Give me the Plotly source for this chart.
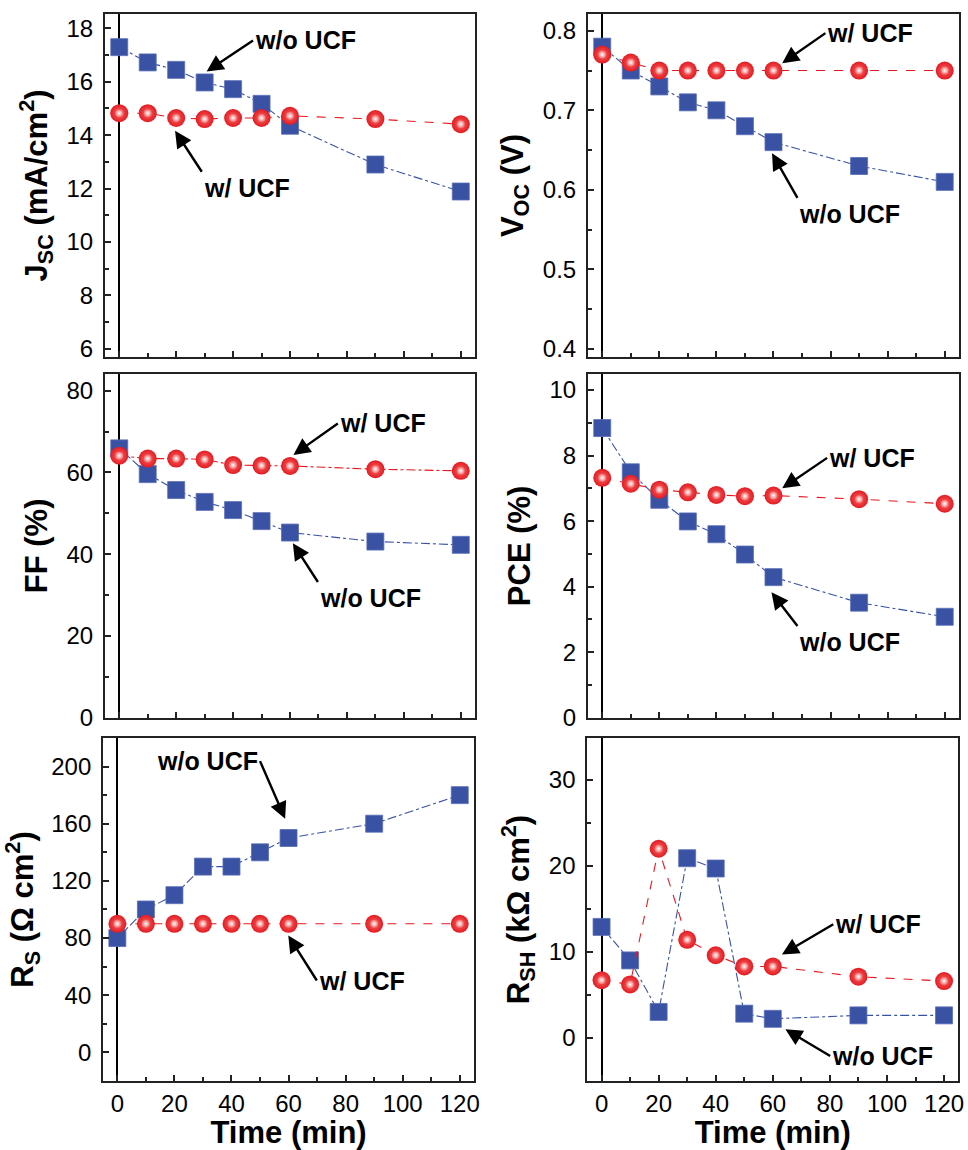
import plotly.graph_objects as go

# ---------------- data ----------------
time_min = [0, 10, 20, 30, 40, 50, 60, 90, 120]

jsc_wo = [17.29, 16.72, 16.44, 15.97, 15.72, 15.17, 14.35, 12.90, 11.89]
jsc_w = [14.82, 14.82, 14.64, 14.60, 14.64, 14.64, 14.72, 14.60, 14.41]

voc_wo = [0.78, 0.75, 0.73, 0.71, 0.70, 0.68, 0.66, 0.63, 0.61]
voc_w = [0.77, 0.76, 0.75, 0.75, 0.75, 0.75, 0.75, 0.75, 0.75]

ff_wo = [65.9, 59.6, 55.7, 52.8, 50.8, 48.1, 45.3, 43.1, 42.3]
ff_w = [64.1, 63.4, 63.4, 63.2, 61.8, 61.7, 61.6, 60.8, 60.4]

pce_wo = [8.84, 7.49, 6.65, 5.99, 5.60, 4.98, 4.29, 3.51, 3.08]
pce_w = [7.32, 7.14, 6.96, 6.88, 6.80, 6.76, 6.78, 6.67, 6.53]

rs_wo = [80, 100, 110, 130, 130, 140, 150, 160, 180]
rs_w = [90, 90, 90, 90, 90, 90, 90, 90, 90]

rsh_wo = [12.9, 9.0, 3.0, 20.9, 19.7, 2.8, 2.2, 2.6, 2.6]
rsh_w = [6.7, 6.2, 22.0, 11.4, 9.6, 8.3, 8.3, 7.1, 6.6]

label_wo = "w/o UCF"
label_w = "w/ UCF"

# ---------------- styling ----------------
FONT = "Liberation Sans, Arial, sans-serif"
BLUE = "#3a52a4"
RED = "#e5191f"
RED_MID = "#f26a6a"
AXCOL = "#222222"
TICKFS = 24
TITLEFS = 31
ANNFS = 25

# annotation tuples: (text, tail_x, tail_y, xanchor, yanchor, head_x, head_y)
panels = [
    dict(wo=jsc_wo, w=jsc_w, yr=[5.7, 18.53], dt=2, mdt=1,
         title="<b>J<sub>SC</sub> (mA/cm<sup>2</sup>)</b>", rdash="dash",
         xd=[0.1085, 0.4907], yd=[0.6896, 0.9878],
         ann=[(label_wo, 47.0, 17.54, "left", "middle", 30.7, 16.38),
              (label_w, 29.0, 12.63, "left", "top", 19.6, 14.16)]),
    dict(wo=voc_wo, w=voc_w, yr=[0.39, 0.821], dt=0.1, mdt=0.05,
         title="<b>V<sub>OC</sub> (V)</b>", rdash="dash",
         xd=[0.6074, 0.9907], yd=[0.6896, 0.9878],
         ann=[(label_w, 78.2, 0.797, "left", "middle", 63.05, 0.759),
              (label_wo, 68.4, 0.590, "left", "top", 59.5, 0.646)]),
    dict(wo=ff_wo, w=ff_w, yr=[0, 84.1], dt=20, mdt=10,
         title="<b>FF (%)</b>", rdash="dashdot",
         xd=[0.1085, 0.4907], yd=[0.3759, 0.6748],
         ann=[(label_w, 76.8, 72.0, "left", "middle", 61.2, 64.3),
              (label_wo, 69.8, 33.2, "left", "top", 61.0, 42.7)]),
    dict(wo=pce_wo, w=pce_w, yr=[0, 10.49], dt=2, mdt=1,
         title="<b>PCE (%)</b>", rdash="dash",
         xd=[0.6074, 0.9907], yd=[0.3759, 0.6748],
         ann=[(label_w, 78.8, 7.93, "left", "middle", 63.05, 7.0),
              (label_wo, 68.4, 2.80, "left", "top", 59.3, 3.83)]),
    dict(wo=rs_wo, w=rs_w, yr=[-20, 220], dt=40, mdt=20,
         title="<b>R<sub>S</sub> (Ω cm<sup>2</sup>)</b>", rdash="dash",
         xd=[0.1065, 0.4897], yd=[0.0600, 0.3583],
         ann=[(label_wo, 50.0, 203.8, "right", "middle", 58.8, 163.4),
              (label_w, 69.9, 50.3, "left", "middle", 59.9, 81.8)]),
    dict(wo=rsh_wo, w=rsh_w, yr=[-5.04, 34.9], dt=10, mdt=5,
         title="<b>R<sub>SH</sub> (kΩ cm<sup>2</sup>)</b>", rdash="dash",
         xd=[0.6067, 0.9900], yd=[0.0600, 0.3583],
         ann=[(label_w, 81.2, 13.2, "left", "middle", 63.2, 9.7),
              (label_wo, 80.1, -2.13, "left", "middle", 64.4, 0.98)]),
]

fig = go.Figure()
layout = dict(
    width=968, height=1150,
    margin=dict(l=0, r=0, t=0, b=0, autoexpand=False),
    paper_bgcolor="white", plot_bgcolor="white",
    showlegend=False,
    font=dict(family=FONT, color="black"),
)
annotations = []

for i, p in enumerate(panels):
    n = i + 1
    xs = "x" if n == 1 else f"x{n}"
    ys = "y" if n == 1 else f"y{n}"
    xk = "xaxis" if n == 1 else f"xaxis{n}"
    yk = "yaxis" if n == 1 else f"yaxis{n}"
    bottom = i >= 4

    # w/o UCF: blue squares, dash-dot line
    fig.add_trace(go.Scatter(
        x=time_min, y=p["wo"], xaxis=xs, yaxis=ys, mode="lines+markers",
        name=label_wo, cliponaxis=False,
        line=dict(color=BLUE, width=1.1, dash="dashdot"),
        marker=dict(symbol="square", size=17, color=BLUE,
                    line=dict(color="#5a6fb8", width=0.8)),
    ))
    # w/ UCF: red spheres, dashed line
    fig.add_trace(go.Scatter(
        x=time_min, y=p["w"], xaxis=xs, yaxis=ys, mode="lines+markers",
        name=label_w, cliponaxis=False,
        line=dict(color=RED, width=1.1, dash=p["rdash"]),
        marker=dict(symbol="circle", size=18, color=RED,
                    gradient=dict(type="radial", color=RED_MID),
                    line=dict(width=0)),
    ))
    # sphere highlight
    fig.add_trace(go.Scatter(
        x=time_min, y=p["w"], xaxis=xs, yaxis=ys, mode="markers",
        hoverinfo="skip", cliponaxis=False, showlegend=False,
        marker=dict(symbol="circle", size=8, color=RED_MID,
                    gradient=dict(type="radial", color="#ffffff"),
                    line=dict(width=0)),
    ))

    xa = dict(
        domain=p["xd"], anchor=ys, range=[-5, 125], automargin=False,
        tickmode="array", tickvals=[0, 20, 40, 60, 80, 100, 120],
        ticks="inside", ticklen=6, tickwidth=1.5, tickcolor=AXCOL,
        minor=dict(tickmode="array", tickvals=[10, 30, 50, 70, 90, 110],
                   ticks="inside", ticklen=4, tickwidth=1.5, tickcolor=AXCOL),
        showticklabels=bottom, ticklabelstandoff=0,
        tickfont=dict(family=FONT, size=TICKFS, color="black"),
        showline=True, linecolor=AXCOL, linewidth=2, mirror=True,
        showgrid=False,
        zeroline=True, zerolinecolor="black", zerolinewidth=1.6,
    )
    if bottom:
        xa["title"] = dict(text="<b>Time (min)</b>",
                           font=dict(family=FONT, size=TITLEFS, color="black"),
                           standoff=4)
    layout[xk] = xa
    layout[yk] = dict(
        domain=p["yd"], anchor=xs, range=p["yr"], automargin=False,
        dtick=p["dt"], tick0=0,
        ticks="inside", ticklen=6, tickwidth=1.5, tickcolor=AXCOL,
        minor=dict(dtick=p["mdt"], tick0=0, ticks="inside", ticklen=4,
                   tickwidth=1.5, tickcolor=AXCOL),
        ticklabelstandoff=5,
        tickfont=dict(family=FONT, size=TICKFS, color="black"),
        showline=True, linecolor=AXCOL, linewidth=2, mirror=True,
        showgrid=False, zeroline=False,
        title=dict(text=p["title"],
                   font=dict(family=FONT, size=TITLEFS, color="black"),
                   standoff=10),
    )

    for (txt, tx, ty, xan, yan, hx, hy) in p["ann"]:
        annotations.append(dict(
            x=hx, y=hy, ax=tx, ay=ty, xref=xs, yref=ys, axref=xs, ayref=ys,
            text=f"<b>{txt}</b>", xanchor=xan, yanchor=yan,
            font=dict(family=FONT, size=ANNFS, color="black"),
            showarrow=True, arrowhead=2, arrowsize=1.4,
            arrowwidth=2.4, arrowcolor="black", standoff=0,
        ))

layout["annotations"] = annotations
fig.update_layout(**layout)
fig.write_html(
    "out.html",
    config={"displayModeBar": False},
    post_script="document.body.style.margin='0';"
                "document.documentElement.style.overflow='hidden';",
)
